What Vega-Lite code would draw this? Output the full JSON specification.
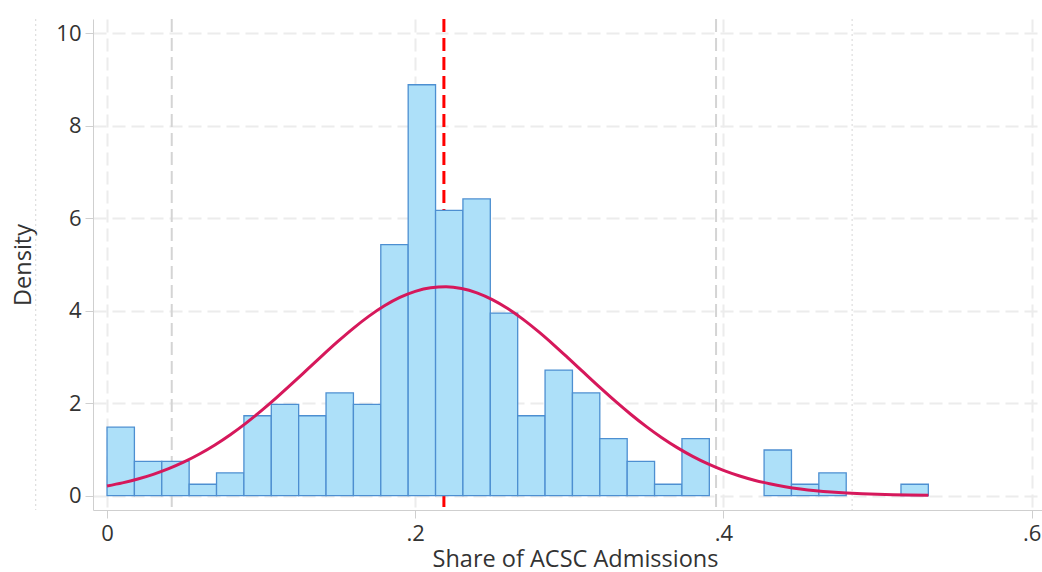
{
  "$schema": "https://vega.github.io/schema/vega-lite/v6.json",
  "autosize": "none",
  "padding": {"left": 93, "top": 19, "right": 0, "bottom": 62},
  "width": 949,
  "height": 491,
  "background": "white",
  "config": {
    "view": {"stroke": null},
    "font": "Open Sans",
    "axis": {
      "labelFont": "Open Sans",
      "titleFont": "Open Sans",
      "labelFontSize": 22,
      "titleFontSize": 23.5,
      "titleFontWeight": "normal",
      "labelColor": "#333333",
      "titleColor": "#333333",
      "domainColor": "#cfcfcf",
      "tickColor": "#cfcfcf",
      "tickSize": 8,
      "gridColor": "#ececec",
      "gridDash": [13, 6],
      "gridWidth": 2
    }
  },
  "datasets": {
    "hist": [
      {"bin_start": 0.0, "bin_end": 0.017765, "density": 1.4813},
      {"bin_start": 0.017765, "bin_end": 0.03553, "density": 0.7407},
      {"bin_start": 0.03553, "bin_end": 0.053295, "density": 0.7407},
      {"bin_start": 0.053295, "bin_end": 0.07106, "density": 0.2469},
      {"bin_start": 0.07106, "bin_end": 0.088825, "density": 0.4938},
      {"bin_start": 0.088825, "bin_end": 0.10659, "density": 1.7282},
      {"bin_start": 0.10659, "bin_end": 0.124355, "density": 1.9751},
      {"bin_start": 0.124355, "bin_end": 0.14212, "density": 1.7282},
      {"bin_start": 0.14212, "bin_end": 0.159885, "density": 2.222},
      {"bin_start": 0.159885, "bin_end": 0.17765, "density": 1.9751},
      {"bin_start": 0.17765, "bin_end": 0.195415, "density": 5.4316},
      {"bin_start": 0.195415, "bin_end": 0.21318, "density": 8.888},
      {"bin_start": 0.21318, "bin_end": 0.230945, "density": 6.1723},
      {"bin_start": 0.230945, "bin_end": 0.24871, "density": 6.4191},
      {"bin_start": 0.24871, "bin_end": 0.266475, "density": 3.9502},
      {"bin_start": 0.266475, "bin_end": 0.28424, "density": 1.7282},
      {"bin_start": 0.28424, "bin_end": 0.302005, "density": 2.7158},
      {"bin_start": 0.302005, "bin_end": 0.31977, "density": 2.222},
      {"bin_start": 0.31977, "bin_end": 0.337535, "density": 1.2345},
      {"bin_start": 0.337535, "bin_end": 0.3553, "density": 0.7407},
      {"bin_start": 0.3553, "bin_end": 0.373065, "density": 0.2469},
      {"bin_start": 0.373065, "bin_end": 0.39083, "density": 1.2345},
      {"bin_start": 0.426360, "bin_end": 0.444125, "density": 0.9876},
      {"bin_start": 0.444125, "bin_end": 0.46189, "density": 0.2469},
      {"bin_start": 0.46189, "bin_end": 0.479655, "density": 0.4938},
      {"bin_start": 0.515185, "bin_end": 0.53295, "density": 0.2469}
    ],
    "normal": [
      {"x": 0.0, "y": 0.2109}, {"x": 0.01, "y": 0.2774}, {"x": 0.02, "y": 0.3602},
      {"x": 0.03, "y": 0.4617}, {"x": 0.04, "y": 0.5844}, {"x": 0.05, "y": 0.73},
      {"x": 0.06, "y": 0.9004}, {"x": 0.07, "y": 1.0963}, {"x": 0.08, "y": 1.3181},
      {"x": 0.09, "y": 1.5645}, {"x": 0.1, "y": 1.8333}, {"x": 0.11, "y": 2.1207},
      {"x": 0.12, "y": 2.4222}, {"x": 0.13, "y": 2.731}, {"x": 0.14, "y": 3.0403},
      {"x": 0.15, "y": 3.3411}, {"x": 0.16, "y": 3.6251}, {"x": 0.17, "y": 3.8829},
      {"x": 0.18, "y": 4.1064}, {"x": 0.19, "y": 4.287}, {"x": 0.2, "y": 4.4189},
      {"x": 0.21, "y": 4.4966}, {"x": 0.22, "y": 4.5174}, {"x": 0.23, "y": 4.4805},
      {"x": 0.24, "y": 4.3872}, {"x": 0.25, "y": 4.2411}, {"x": 0.26, "y": 4.0478},
      {"x": 0.27, "y": 3.814}, {"x": 0.28, "y": 3.5476}, {"x": 0.29, "y": 3.2583},
      {"x": 0.3, "y": 2.9537}, {"x": 0.31, "y": 2.6441}, {"x": 0.32, "y": 2.3366},
      {"x": 0.33, "y": 2.0386}, {"x": 0.34, "y": 1.7558}, {"x": 0.35, "y": 1.4931},
      {"x": 0.36, "y": 1.2533}, {"x": 0.37, "y": 1.0389}, {"x": 0.38, "y": 0.8501},
      {"x": 0.39, "y": 0.6867}, {"x": 0.4, "y": 0.5475}, {"x": 0.41, "y": 0.4312},
      {"x": 0.42, "y": 0.3351}, {"x": 0.43, "y": 0.2572}, {"x": 0.44, "y": 0.1949},
      {"x": 0.45, "y": 0.1458}, {"x": 0.46, "y": 0.1076}, {"x": 0.47, "y": 0.0785},
      {"x": 0.48, "y": 0.0565}, {"x": 0.49, "y": 0.0401}, {"x": 0.5, "y": 0.0282},
      {"x": 0.51, "y": 0.0195}, {"x": 0.52, "y": 0.0133}, {"x": 0.533, "y": 0.008}
    ],
    "sd3": [{"x": -0.0463}, {"x": 0.4835}],
    "sd2": [{"x": 0.042}, {"x": 0.3952}],
    "mean": [{"x": 0.2186}]
  },
  "layer": [
    {
      "data": {"name": "sd3"},
      "mark": {"type": "rule", "color": "#dddddd", "strokeWidth": 1.2, "strokeDash": [2, 3], "clip": false},
      "encoding": {
        "x": {
          "field": "x", "type": "quantitative",
          "scale": {"domain": [-0.0091, 0.6067], "nice": false, "zero": false},
          "axis": {
            "values": [0, 0.2, 0.4, 0.6],
            "labelExpr": "datum.value == 0 ? '0' : replace(format(datum.value, '.1f'), '0.', '.')",
            "title": "Share of ACSC Admissions",
            "labelPadding": 5,
            "titlePadding": 3,
            "titleX": 482,
            "grid": true,
            "labelFlush": false
          }
        }
      }
    },
    {
      "data": {"name": "sd2"},
      "mark": {"type": "rule", "color": "#d4d4d4", "strokeWidth": 2, "strokeDash": [13, 6]},
      "encoding": {"x": {"field": "x", "type": "quantitative"}}
    },
    {
      "data": {"name": "mean"},
      "mark": {"type": "rule", "color": "#ff0000", "strokeWidth": 3, "strokeDash": [13, 6]},
      "encoding": {"x": {"field": "x", "type": "quantitative"}}
    },
    {
      "data": {"name": "hist"},
      "mark": {"type": "rect", "fill": "#ade0f9", "stroke": "#4d8fd1", "strokeWidth": 1.3},
      "encoding": {
        "x": {"field": "bin_start", "type": "quantitative"},
        "x2": {"field": "bin_end"},
        "y": {
          "field": "density", "type": "quantitative",
          "scale": {"domain": [-0.31, 10.31], "nice": false, "zero": false},
          "axis": {
            "values": [0, 2, 4, 6, 8, 10],
            "title": "Density",
            "labelPadding": 4,
            "titlePadding": 20,
            "grid": true
          }
        },
        "y2": {"datum": 0}
      }
    },
    {
      "data": {"name": "normal"},
      "mark": {"type": "line", "color": "#d6185b", "strokeWidth": 3, "interpolate": "monotone"},
      "encoding": {
        "x": {"field": "x", "type": "quantitative"},
        "y": {"field": "y", "type": "quantitative"}
      }
    }
  ]
}
